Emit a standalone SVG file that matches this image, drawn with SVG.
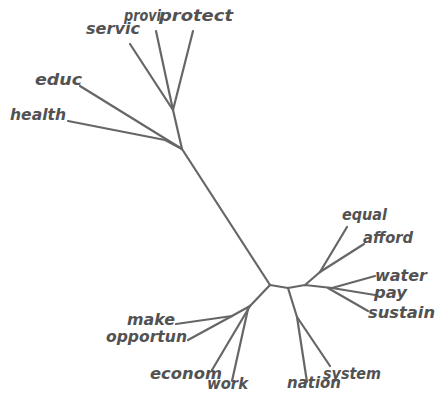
<svg xmlns="http://www.w3.org/2000/svg" width="436" height="395" viewBox="0 0 436 395">
<style>
.l{fill:none;stroke:#666;stroke-width:2.2;stroke-linecap:round;stroke-linejoin:round}
.t{font-family:"DejaVu Sans","Liberation Sans",sans-serif;font-size:16px;font-weight:bold;font-style:italic;fill:#525252}
</style>
<rect width="436" height="395" fill="#fff"/>
<g id="connectors">
<path class="l" d="M130,44 L173,110"/>
<path class="l" d="M156,31 L173,110"/>
<path class="l" d="M193,31 L173,110"/>
<path class="l" d="M173,110 L182,149"/>
<path class="l" d="M80,86 L182,149"/>
<path class="l" d="M68,121 L165,140 L182,149"/>
<path class="l" d="M182,149 L270,285"/>
<path class="l" d="M270,285 L288,288 L305,285 L332,288"/>
<path class="l" d="M305,285 L320,272"/>
<path class="l" d="M320,272 L347,227"/>
<path class="l" d="M320,272 L364,244"/>
<path class="l" d="M332,288 L375,276"/>
<path class="l" d="M332,288 L375,295"/>
<path class="l" d="M328,288 L368,311"/>
<path class="l" d="M270,285 L250,306"/>
<path class="l" d="M250,306 L232,316"/>
<path class="l" d="M232,316 L176,324"/>
<path class="l" d="M232,316 L188,340"/>
<path class="l" d="M250,306 L212,370"/>
<path class="l" d="M248,309 L232,381"/>
<path class="l" d="M288,288 L297,317"/>
<path class="l" d="M297,317 L307,382"/>
<path class="l" d="M297,317 L330,366"/>
</g>
<g id="servic"><text class="t" x="86" y="34" textLength="54" lengthAdjust="spacingAndGlyphs">servic</text></g>
<g id="provi"><text class="t" x="124" y="21" textLength="37" lengthAdjust="spacingAndGlyphs">provi</text></g>
<g id="protect"><text class="t" x="159" y="21" textLength="74" lengthAdjust="spacingAndGlyphs">protect</text></g>
<g id="educ"><text class="t" x="35" y="85" textLength="47" lengthAdjust="spacingAndGlyphs">educ</text></g>
<g id="health"><text class="t" x="10" y="120" textLength="56" lengthAdjust="spacingAndGlyphs">health</text></g>
<g id="equal"><text class="t" x="342" y="220" textLength="45" lengthAdjust="spacingAndGlyphs">equal</text></g>
<g id="afford"><text class="t" x="363" y="243" textLength="50" lengthAdjust="spacingAndGlyphs">afford</text></g>
<g id="water"><text class="t" x="375" y="281" textLength="52" lengthAdjust="spacingAndGlyphs">water</text></g>
<g id="pay"><text class="t" x="374" y="298" textLength="33" lengthAdjust="spacingAndGlyphs">pay</text></g>
<g id="sustain"><text class="t" x="368" y="318" textLength="67" lengthAdjust="spacingAndGlyphs">sustain</text></g>
<g id="make"><text class="t" x="127" y="325" textLength="48" lengthAdjust="spacingAndGlyphs">make</text></g>
<g id="opportun"><text class="t" x="106" y="342" textLength="81" lengthAdjust="spacingAndGlyphs">opportun</text></g>
<g id="econom"><text class="t" x="150" y="379" textLength="72" lengthAdjust="spacingAndGlyphs">econom</text></g>
<g id="work"><text class="t" x="207" y="389" textLength="41" lengthAdjust="spacingAndGlyphs">work</text></g>
<g id="nation"><text class="t" x="287" y="388" textLength="54" lengthAdjust="spacingAndGlyphs">nation</text></g>
<g id="system"><text class="t" x="323" y="379" textLength="58" lengthAdjust="spacingAndGlyphs">system</text></g>
</svg>
